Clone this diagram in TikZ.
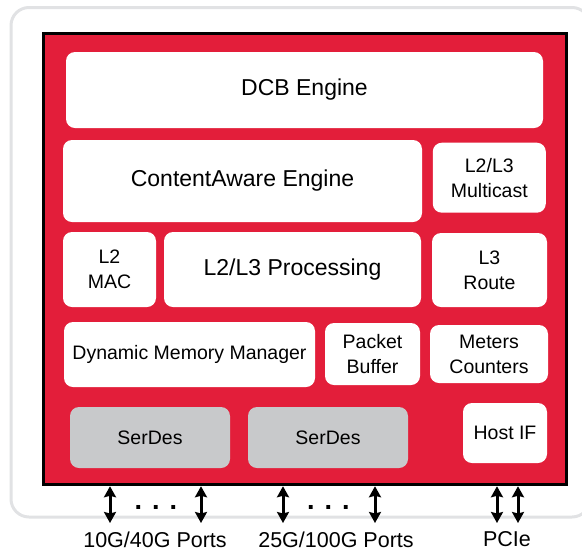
\documentclass[tikz,border=0pt]{standalone}
\usepackage{fontspec}
\setmainfont{Liberation Sans}
\usepackage{tikz}
\usetikzlibrary{shapes.geometric, arrows.meta}
\definecolor{chipred}{RGB}{227,30,58}
\definecolor{serdesgray}{RGB}{200,201,203}
\definecolor{framegray}{RGB}{225,226,228}
\newcommand{\bigfont}{\fontsize{23}{27}\selectfont}
\newcommand{\midfont}{\fontsize{19.5}{25}\selectfont}
\newcommand{\portfont}{\fontsize{21.5}{25}\selectfont}
\tikzstyle{chipbox} = [rectangle, draw=black, line width=3.5pt, fill=chipred, inner sep=0pt]
\tikzstyle{block} = [rectangle, rounded corners=9pt, fill=white, align=center, inner sep=0pt, font=\midfont]
\tikzstyle{serdes} = [block, fill=serdesgray]
\tikzstyle{portlabel} = [font=\portfont, inner sep=0pt]
\tikzstyle{arrow} = [line width=3pt, <->, >={Stealth[length=11pt,width=12pt,inset=1.5pt]}]

\begin{document}
\begin{tikzpicture}[x=1pt, y=-1pt]
\useasboundingbox (0,0) rectangle (582,550);
% outer frame
\draw [framegray, line width=3pt, rounded corners=18pt] (11,7.5) rectangle (590,517);
% chip
\node (chip) [chipbox, minimum width=523.4pt, minimum height=451pt] at (305,259) {};
\node (dcb) [block, font=\bigfont, minimum width=477pt, minimum height=76pt] at (304.5,90) {DCB Engine};
\node (cae) [block, font=\bigfont, minimum width=359pt, minimum height=82pt] at (242.5,181) {ContentAware Engine};
\node (mcast) [block, minimum width=113pt, minimum height=70pt] at (489.3,177.7) {L2/L3\\Multicast};
\node (l2mac) [block, minimum width=93pt, minimum height=75pt] at (109.5,269.5) {L2\\MAC};
\node (l2l3) [block, font=\bigfont, minimum width=257pt, minimum height=75pt] at (292.5,269.5) {L2/L3 Processing};
\node (l3route) [block, minimum width=115pt, minimum height=74pt] at (489.5,270) {L3\\Route};
\node (dmm) [block, minimum width=251pt, minimum height=65pt] at (189.5,354.5) {Dynamic Memory Manager};
\node (pbuf) [block, minimum width=95pt, minimum height=62pt] at (372.5,354) {Packet\\Buffer};
\node (meters) [block, minimum width=118pt, minimum height=58pt] at (489,354) {Meters\\Counters};
\node (serdesa) [serdes, minimum width=160pt, minimum height=61pt] at (150,437.5) {SerDes};
\node (serdesb) [serdes, minimum width=160pt, minimum height=61pt] at (328,437.5) {SerDes};
\node (hostif) [block, minimum width=84pt, minimum height=60pt] at (505,433) {Host IF};
% ports
\coordinate (pa1) at (110,523);
\coordinate (pa2) at (201,523);
\coordinate (pb1) at (283,523);
\coordinate (pb2) at (375,523);
\coordinate (pc1) at (497,523);
\coordinate (pc2) at (518,523);
\node (dotsa) [font=\fontsize{27}{27}\bfseries, inner sep=0pt] at (156,507) {. . .};
\node (dotsb) [font=\fontsize{27}{27}\bfseries, inner sep=0pt] at (328.5,507) {. . .};
\draw [arrow] (chip.south -| pa1) -- (pa1);
\draw [arrow] (chip.south -| pa2) -- (pa2);
\draw [arrow] (chip.south -| pb1) -- (pb1);
\draw [arrow] (chip.south -| pb2) -- (pb2);
\draw [arrow] (chip.south -| pc1) -- (pc1);
\draw [arrow] (chip.south -| pc2) -- (pc2);
\node (porta) [portlabel] at (155,539.5) {10G/40G Ports};
\node (portb) [portlabel] at (336,539.5) {25G/100G Ports};
\node (pcie) [portlabel] at (507,539.5) {PCIe};
\end{tikzpicture}
\end{document}
